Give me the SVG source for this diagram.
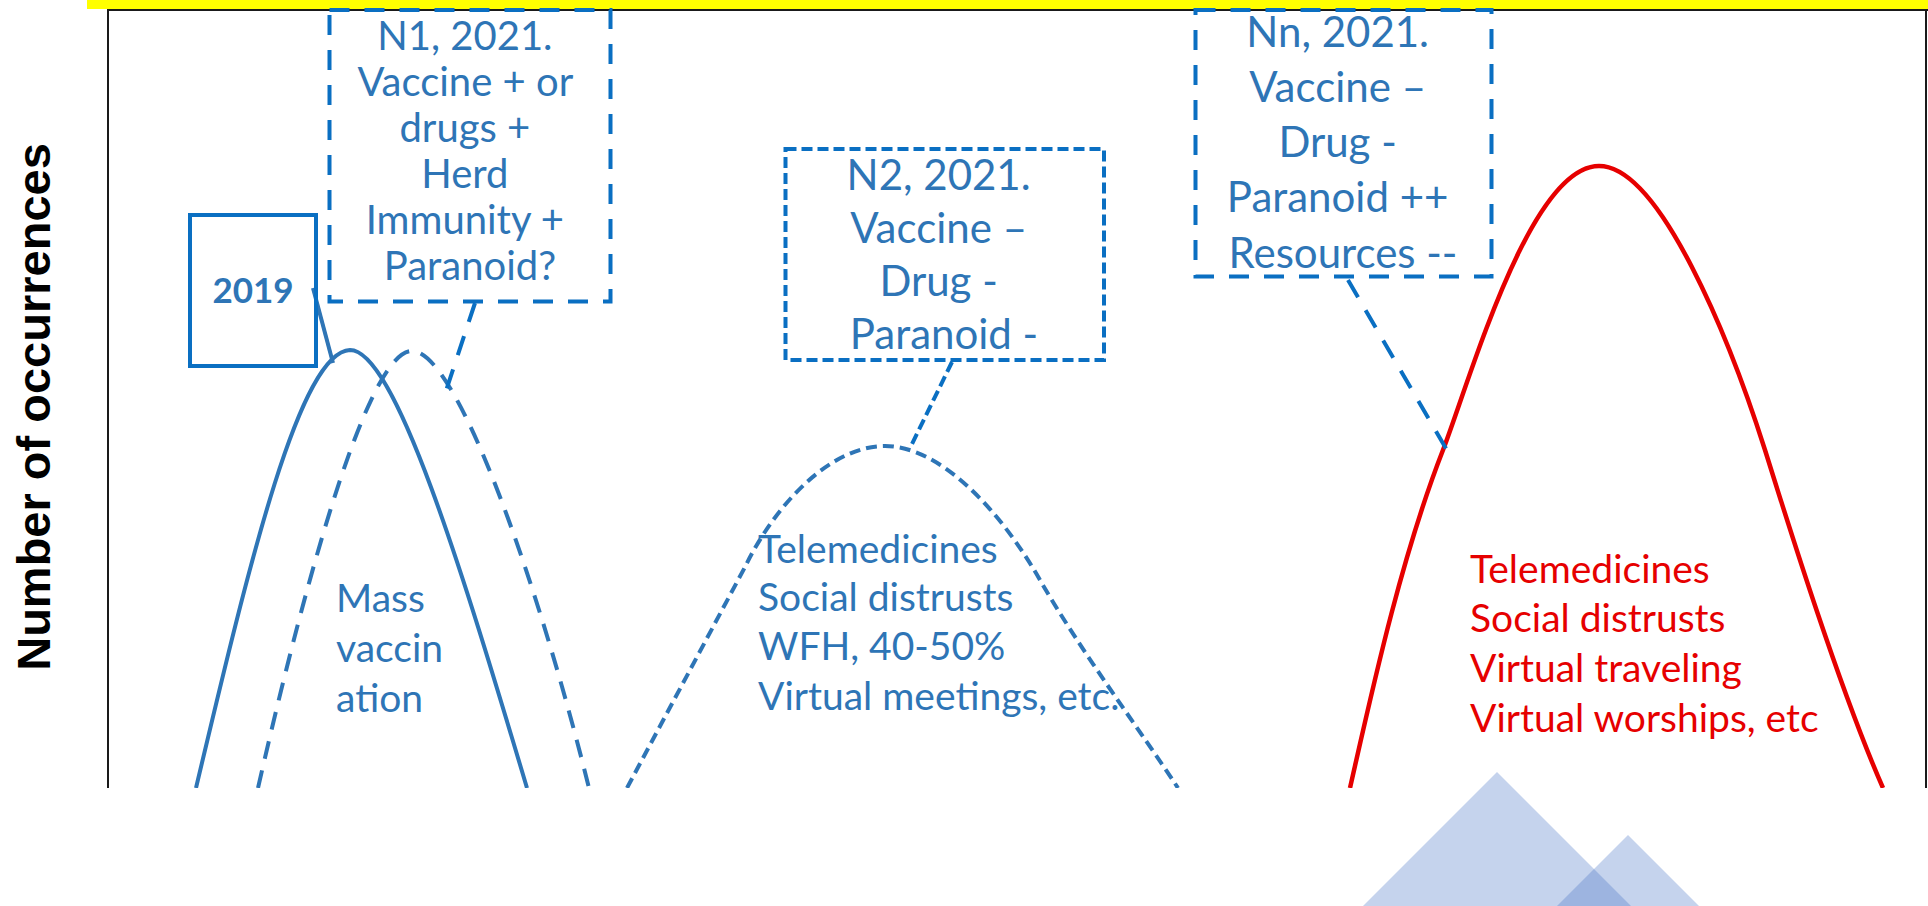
<svg xmlns="http://www.w3.org/2000/svg" width="1928" height="906" viewBox="0 0 1928 906">
<defs>
<style>
.frame{stroke:#1a1a1a;stroke-width:2;fill:none}
.lbl{font-family:Lato,"Liberation Sans",sans-serif;fill:#2e75b6}
.c{text-anchor:middle}
.blue{stroke:#2e75b6;stroke-width:4;fill:none}
.bx{stroke:#0a6fc2;stroke-width:4;fill:none}
.long{stroke-dasharray:20 15}
.short{stroke-dasharray:11 5}
.red{stroke:#e60000;stroke-width:4.5;fill:none}
.redt{font-family:Lato,"Liberation Sans",sans-serif;fill:#e60000}
.tri{fill:#4472c4;fill-opacity:0.31}
</style>
<clipPath id="plot"><rect x="0" y="0" width="1928" height="788"/></clipPath>
</defs>
<rect width="1928" height="906" fill="#ffffff"/>
<rect x="87" y="0" width="1841" height="9" fill="#ffff00"/>
<g id="frame">
<line class="frame" x1="107" y1="10" x2="1928" y2="10"/>
<line class="frame" x1="108" y1="10" x2="108" y2="788"/>
<line class="frame" x1="1926" y1="10" x2="1926" y2="788"/>
</g>
<text transform="translate(50,407) rotate(-90)" text-anchor="middle" font-family="'Liberation Sans',Arial,sans-serif" font-weight="bold" font-size="47" fill="#000">Number of occurrences</text>
<g id="curves" clip-path="url(#plot)">
<path id="curve-2019" class="blue" d="M196,788 C250,560 300,352 350,350 C395,350 462,570 527,788"/>
<path id="curve-n1" class="blue" stroke-dasharray="18 12" d="M258,788 C310,560 370,351 412,351 C458,351 540,590 589,788"/>
<path id="curve-n2" class="blue" stroke-dasharray="11 6" d="M627,788 L745,567 C775,505 830,446 885,446 C940,446 1000,510 1040,580 C1080,650 1140,730 1178,788"/>
<path id="curve-nn" class="red" d="M1350,788 C1370,700 1400,560 1443,450 C1470,380 1530,166 1599,166 C1660,166 1730,340 1765,450 C1790,530 1840,690 1883,788"/>
</g>
<g id="connectors">
<line class="blue" x1="313" y1="288" x2="333" y2="363"/>
<line class="bx long" x1="475" y1="303" x2="443" y2="400"/>
<line class="bx short" x1="952" y1="362" x2="910" y2="448"/>
<line class="bx long" x1="1348" y1="280" x2="1448" y2="452"/>
</g>
<g id="node-2019">
<rect class="bx" x="190" y="215" width="126" height="151"/>
<text class="lbl c" x="253" y="303" font-size="35" font-weight="bold">2019</text>
</g>
<g id="node-n1">
<rect class="bx long" x="329.5" y="10" width="281" height="291.5"/>
<text class="lbl c" font-size="40">
<tspan x="470" y="50">N1, 2021.</tspan>
<tspan x="470" y="96">Vaccine + or</tspan>
<tspan x="470" y="142">drugs +</tspan>
<tspan x="470" y="188">Herd</tspan>
<tspan x="470" y="234">Immunity +</tspan>
<tspan x="470" y="280">Paranoid?</tspan>
</text>
</g>
<g id="node-n2">
<rect class="bx short" x="785.5" y="149" width="318.5" height="211"/>
<text class="lbl c" font-size="42">
<tspan x="944" y="190">N2, 2021.</tspan>
<tspan x="944" y="243">Vaccine –</tspan>
<tspan x="944" y="296">Drug -</tspan>
<tspan x="944" y="349">Paranoid -</tspan>
</text>
</g>
<g id="node-nn">
<rect class="bx long" x="1195.5" y="10" width="296" height="266.5"/>
<text class="lbl c" font-size="42">
<tspan x="1343" y="47">Nn, 2021.</tspan>
<tspan x="1343" y="102">Vaccine –</tspan>
<tspan x="1343" y="157">Drug -</tspan>
<tspan x="1343" y="212">Paranoid ++</tspan>
<tspan x="1343" y="268">Resources --</tspan>
</text>
</g>
<g id="label-mass">
<text class="lbl" font-size="39">
<tspan x="336" y="612">Mass</tspan>
<tspan x="336" y="662">vaccin</tspan>
<tspan x="336" y="712">ation</tspan>
</text>
</g>
<g id="label-n2">
<text class="lbl" font-size="39">
<tspan x="758" y="563">Telemedicines</tspan>
<tspan x="758" y="611">Social distrusts</tspan>
<tspan x="758" y="660">WFH, 40-50%</tspan>
<tspan x="758" y="710">Virtual meetings, etc.</tspan>
</text>
</g>
<g id="label-nn">
<text class="redt" font-size="39">
<tspan x="1470" y="583">Telemedicines</tspan>
<tspan x="1470" y="632">Social distrusts</tspan>
<tspan x="1470" y="682">Virtual traveling</tspan>
<tspan x="1470" y="732">Virtual worships, etc</tspan>
</text>
</g>
<g id="decor">
<polygon class="tri" points="1497,772 1631,906 1363,906"/>
<polygon class="tri" points="1628,835 1699,906 1557,906"/>
</g>
</svg>
